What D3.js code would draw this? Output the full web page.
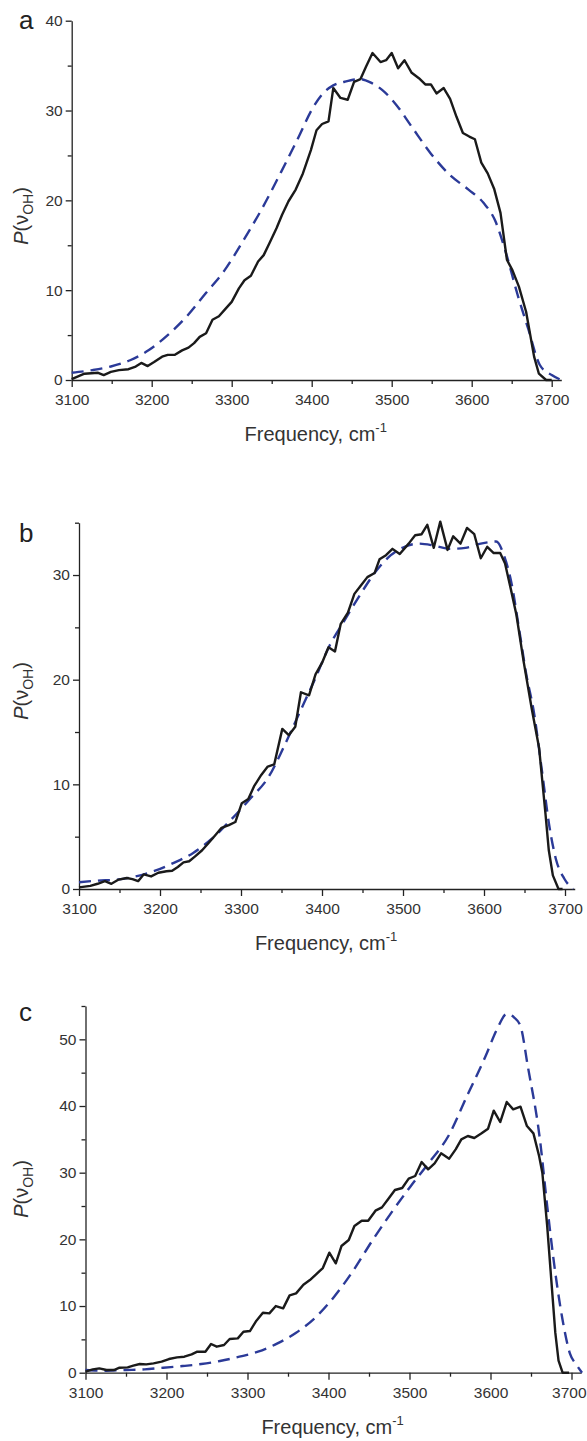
<!DOCTYPE html>
<html>
<head>
<meta charset="utf-8">
<script src="https://cdn.jsdelivr.net/npm/d3@7"></script>
<style>
  body { margin: 0; background: #fff; }
  svg { display: block; font-family: "Liberation Sans", Arial, sans-serif; }
</style>
</head>
<body>
<script>
// panel a
var aSolidX = [3100,3116,3133,3140,3149,3159,3171,3180,3187,3195,3203,3213,3220,3229,3238,3246,3253,3260,3268,3276,3284,3293,3300,3309,3316,3324,3333,3340,3347,3356,3363,3371,3380,3389,3399,3406,3413,3421,3427,3436,3445,3453,3461,3468,3476,3486,3493,3500,3508,3516,3525,3534,3542,3549,3556,3565,3573,3581,3589,3597,3604,3612,3620,3628,3636,3644,3651,3659,3668,3678,3684,3693,3700];
var aSolidY = [0.1,0.7,0.8,0.55,0.9,1.1,1.2,1.5,1.9,1.55,2.0,2.6,2.8,2.8,3.3,3.6,4.1,4.8,5.2,6.7,7.1,8.0,8.7,10.2,11.1,11.6,13.2,13.9,15.2,16.9,18.4,19.9,21.2,23.0,25.6,27.8,28.5,28.8,32.5,31.4,31.2,33.2,33.5,34.9,36.4,35.4,35.6,36.4,34.7,35.6,34.2,33.6,32.9,32.9,31.9,32.5,31.3,29.3,27.5,27.1,26.8,24.2,23.0,21.3,18.6,13.4,12.2,10.4,7.6,2.6,0.7,0,0];
var aDashX = [3100,3126,3149,3173,3196,3220,3244,3267,3291,3315,3338,3362,3385,3399,3413,3427,3441,3460,3474,3488,3506,3525,3549,3573,3596,3615,3629,3643,3657,3671,3685,3700,3712];
var aDashY = [0.8,1.1,1.5,2.2,3.3,5.0,7.1,9.6,12.2,15.6,19.1,23.2,27.3,29.9,31.8,32.8,33.2,33.5,33.1,32.3,30.6,28.2,25.2,22.8,21.2,19.7,17.8,14.1,9.6,5.6,1.7,0.55,0];

// panel b
var bSolidX = [3100,3114,3123,3132,3140,3149,3159,3166,3173,3180,3189,3198,3208,3215,3222,3229,3236,3243,3252,3260,3269,3276,3285,3293,3301,3309,3316,3325,3333,3341,3351,3359,3367,3374,3384,3392,3400,3408,3416,3423,3432,3440,3448,3456,3465,3471,3479,3487,3496,3507,3515,3523,3530,3538,3546,3555,3562,3571,3579,3588,3596,3604,3612,3620,3626,3633,3640,3649,3659,3668,3676,3680,3685,3692,3697];
var bSolidY = [0.15,0.3,0.5,0.75,0.5,0.9,1.05,0.95,0.75,1.4,1.2,1.55,1.7,1.75,2.1,2.55,2.65,3.1,3.7,4.4,5.2,5.85,6.1,6.4,8.2,8.6,9.8,10.9,11.7,11.9,15.3,14.7,15.5,18.8,18.5,20.5,21.6,23.1,22.7,25.3,26.4,28.2,29.0,29.8,30.2,31.5,31.9,32.5,32.0,33.0,33.8,33.9,34.8,32.6,35.1,32.4,33.7,33.0,34.5,33.9,31.6,32.7,32.1,32.1,31.1,28.7,26.2,21.7,17.2,13.5,7.1,3.7,1.3,0,0];
var bDashX = [3100,3123,3147,3170,3194,3217,3241,3264,3288,3311,3334,3353,3372,3391,3409,3428,3447,3466,3485,3502,3520,3539,3558,3577,3596,3615,3625,3634,3643,3652,3662,3671,3681,3689,3699,3710];
var bDashY = [0.65,0.8,0.9,1.2,1.75,2.5,3.45,4.8,6.65,8.6,10.7,13.6,16.8,20.0,23.2,25.7,28.1,30.3,31.9,32.7,33.0,32.8,32.5,32.6,33.0,33.2,31.8,29.2,25.0,20.6,16.7,11.6,5.85,2.8,1.0,0];

// panel c
var cSolidX = [3100,3109,3117,3126,3135,3142,3152,3159,3167,3175,3184,3194,3203,3213,3222,3231,3238,3248,3255,3262,3271,3278,3288,3295,3303,3311,3319,3327,3335,3344,3352,3360,3369,3377,3385,3393,3401,3409,3416,3425,3432,3441,3449,3458,3466,3474,3482,3491,3499,3507,3515,3523,3531,3539,3549,3557,3564,3572,3580,3589,3597,3604,3612,3620,3628,3637,3645,3653,3660,3664,3670,3675,3680,3684,3689,3697];
var cSolidY = [0.15,0.5,0.65,0.4,0.4,0.75,0.8,1.05,1.3,1.25,1.4,1.65,2.05,2.3,2.4,2.75,3.15,3.15,4.3,3.9,4.15,5.05,5.15,6.15,6.25,7.8,9.0,8.9,10.0,9.65,11.6,11.9,13.2,13.9,14.8,15.7,18.0,16.4,19.0,19.9,22.0,22.8,22.8,24.3,24.8,26.1,27.4,27.7,29.1,29.5,31.6,30.5,31.4,32.9,32.1,33.5,35.0,35.5,35.2,35.9,36.6,39.3,37.6,40.6,39.5,39.9,37.0,35.9,32.5,30.0,22.0,14.0,6.0,1.8,0,0];
var cDashX = [3100,3126,3149,3173,3196,3220,3243,3266,3290,3313,3337,3360,3384,3407,3431,3454,3477,3501,3524,3548,3571,3594,3608,3620,3629,3637,3646,3661,3670,3679,3689,3698,3706,3713];
var cDashY = [0.4,0.3,0.4,0.5,0.75,1.0,1.3,1.75,2.4,3.15,4.4,6.0,8.3,11.4,15.4,19.8,23.9,27.9,31.5,35.5,41.5,47.5,51.5,53.8,53.3,52.0,46.0,35.0,25.0,15.9,7.9,2.9,1.2,0];

var xMajor = [3100, 3200, 3300, 3400, 3500, 3600, 3700];
var xMinor = [3150, 3250, 3350, 3450, 3550, 3650];

var panels = [
    { label: "a", sx: aSolidX, sy: aSolidY, dx: aDashX, dy: aDashY,
      left: 71.7, px100: 80, top: 20.7, bottom: 380, yMax: 40,
      yMajor: [0, 10, 20, 30, 40], yMinor: [5, 15, 25, 35],
      labelX: 19, labelY: 29, titleY: 216 },
    { label: "b", sx: bSolidX, sy: bSolidY, dx: bDashX, dy: bDashY,
      left: 79, px100: 81, top: 522.7, bottom: 889, yMax: 35,
      yMajor: [0, 10, 20, 30], yMinor: [5, 15, 25, 35],
      labelX: 19, labelY: 541.5, titleY: 691 },
    { label: "c", sx: cSolidX, sy: cSolidY, dx: cDashX, dy: cDashY,
      left: 85.5, px100: 81, top: 1006, bottom: 1372.7, yMax: 55,
      yMajor: [0, 10, 20, 30, 40, 50], yMinor: [5, 15, 25, 35, 45, 55],
      labelX: 19, labelY: 1020.5, titleY: 1189 }
];

var svg = d3.select("body").append("svg")
    .attr("width", 587)
    .attr("height", 1441);

function toPoints(xs, ys) {
    var pts = [];
    for (var i = 0; i < xs.length; i++) {
        pts.push({ x: xs[i], y: ys[i] });
    }
    return pts;
}

function styleAxis(g) {
    g.selectAll("path, line").attr("stroke", "#222").attr("stroke-width", 1.3);
    g.selectAll("text").attr("fill", "#333").style("font-size", "15.5px");
}

panels.forEach(function(p) {
    var x = d3.scaleLinear()
        .domain([3100, 3712])
        .range([p.left, p.left + 6.12 * p.px100]);
    var y = d3.scaleLinear()
        .domain([0, p.yMax])
        .range([p.bottom, p.top]);

    var g = svg.append("g");

    // minor ticks first, no labels
    g.append("g")
        .attr("transform", "translate(0," + p.bottom + ")")
        .call(d3.axisBottom(x).tickValues(xMinor).tickSize(4).tickFormat(""))
        .call(styleAxis)
        .select(".domain").remove();
    g.append("g")
        .attr("transform", "translate(" + p.left + ",0)")
        .call(d3.axisLeft(y).tickValues(p.yMinor).tickSize(4).tickFormat(""))
        .call(styleAxis)
        .select(".domain").remove();

    var xAxisG = g.append("g")
        .attr("transform", "translate(0," + p.bottom + ")")
        .call(d3.axisBottom(x).tickValues(xMajor).tickFormat(d3.format("d"))
            .tickSize(7).tickSizeOuter(0).tickPadding(7))
        .call(styleAxis);
    // keep the last label inside the page
    xAxisG.selectAll(".tick text").each(function(d) {
        var right = x(d) + this.getComputedTextLength() / 2;
        if (right > 586) d3.select(this).attr("dx", 586 - right);
    });

    g.append("g")
        .attr("transform", "translate(" + p.left + ",0)")
        .call(d3.axisLeft(y).tickValues(p.yMajor).tickSize(6).tickSizeOuter(0).tickPadding(3))
        .call(styleAxis);

    var line = d3.line()
        .x(function(d) { return x(d.x); })
        .y(function(d) { return y(d.y); });
    var smooth = d3.line()
        .curve(d3.curveMonotoneX)
        .x(function(d) { return x(d.x); })
        .y(function(d) { return y(d.y); });

    g.append("path")
        .datum(toPoints(p.dx, p.dy))
        .attr("d", smooth)
        .attr("fill", "none")
        .attr("stroke", "#2b3a98")
        .attr("stroke-width", 2.4)
        .attr("stroke-dasharray", "12,7");

    g.append("path")
        .datum(toPoints(p.sx, p.sy))
        .attr("d", line)
        .attr("fill", "none")
        .attr("stroke", "#1a1a1a")
        .attr("stroke-width", 2.4)
        .attr("stroke-linejoin", "round");

    // panel letter
    g.append("text")
        .attr("x", p.labelX)
        .attr("y", p.labelY)
        .attr("fill", "#222")
        .style("font-size", "26px")
        .text(p.label);

    // y title P(v_OH)
    var yt = g.append("text")
        .attr("transform", "translate(28," + p.titleY + ") rotate(-90)")
        .attr("text-anchor", "middle")
        .attr("fill", "#333")
        .style("font-size", "20px");
    yt.append("tspan").style("font-style", "italic").text("P");
    yt.append("tspan").text("(ν");
    yt.append("tspan").attr("dy", 5).style("font-size", "14px").text("OH");
    yt.append("tspan").attr("dy", -5).text(")");

    // x title
    var xt = g.append("text")
        .attr("x", x(3405))
        .attr("y", p.bottom + 61)
        .attr("text-anchor", "middle")
        .attr("fill", "#333")
        .style("font-size", "20px");
    xt.append("tspan").text("Frequency, cm");
    xt.append("tspan").attr("dy", -9).style("font-size", "13px").text("-1");
});
</script>
</body>
</html>
